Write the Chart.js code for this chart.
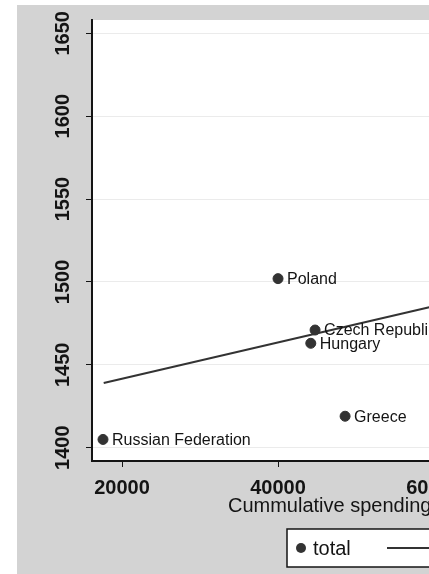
<!DOCTYPE html>
<html>
<head>
<meta charset="utf-8">
<script src="https://cdn.jsdelivr.net/npm/chart.js@4/dist/chart.umd.min.js"></script>
<style>
html, body { margin: 0; padding: 0; overflow: hidden; background: #fff; width: 429px; height: 574px; }
#wrap { width: 700px; height: 574px; }
</style>
</head>
<body>
<div id="wrap"><canvas id="myChart" width="700" height="574"></canvas></div>
<script>
var countries = ['Poland', 'Czech Republic', 'Hungary', 'Greece', 'Russian Federation'];
var spending = [40000, 44750, 44200, 48600, 17560];
var score = [1502, 1471, 1463, 1419, 1405];
var fit_x = [17650, 66000];
var fit_y = [1439, 1492];
var ticks_x = [20000, 40000, 60000, 80000];
var ticks_y = [1400, 1450, 1500, 1550, 1600, 1650];

var pts = [];
for (let i = 0; i < countries.length; i++) {
  pts.push({x: spending[i], y: score[i]});
}
var fitPts = [];
for (let i = 0; i < fit_x.length; i++) {
  fitPts.push({x: fit_x[i], y: fit_y[i]});
}

var ink = '#141414';
var fontFam = '"Liberation Sans", Arial, sans-serif';
var ctx = document.getElementById('myChart').getContext('2d');

// scanned page look: grey paper, white plot region
var paperBg = {
  id: 'paperBg',
  beforeDraw: function(chart) {
    var c = chart.ctx, a = chart.chartArea;
    c.save();
    c.fillStyle = '#fff';
    c.fillRect(0, 0, chart.width, chart.height);
    c.fillStyle = '#d3d3d3';
    c.fillRect(17, 5, chart.width, chart.height);
    c.fillStyle = '#fff';
    c.fillRect(a.left, a.top, a.right - a.left, a.bottom - a.top);
    c.restore();
  }
};

// country names next to the markers
var pointLabels = {
  id: 'pointLabels',
  afterDatasetsDraw: function(chart) {
    var c = chart.ctx;
    var meta = chart.getDatasetMeta(0);
    c.save();
    c.font = '16px ' + fontFam;
    c.fillStyle = ink;
    c.textBaseline = 'middle';
    c.textAlign = 'left';
    meta.data.forEach(function(el, i) {
      c.fillText(countries[i], el.x + 9, el.y + 1);
    });
    c.restore();
  }
};

// boxed legend like the Stata one
var boxLegend = {
  id: 'boxLegend',
  afterDraw: function(chart) {
    var c = chart.ctx;
    var x0 = 287, y0 = 529, h = 38;
    c.save();
    c.fillStyle = '#fff';
    c.fillRect(x0, y0, 330, h);
    c.strokeStyle = ink;
    c.lineWidth = 1.5;
    c.strokeRect(x0, y0, 330, h);
    c.fillStyle = '#333';
    c.beginPath();
    c.arc(301, y0 + 19, 5, 0, Math.PI * 2);
    c.fill();
    c.font = '20px ' + fontFam;
    c.fillStyle = ink;
    c.textBaseline = 'middle';
    c.fillText(chart.data.datasets[0].label, 313, y0 + 20);
    c.strokeStyle = '#333';
    c.lineWidth = 2;
    c.beginPath();
    c.moveTo(387, y0 + 19);
    c.lineTo(450, y0 + 19);
    c.stroke();
    c.fillText(chart.data.datasets[1].label, 462, y0 + 20);
    c.restore();
  }
};

var myChart = new Chart(ctx, {
  type: 'scatter',
  data: {
    datasets: [{
      label: 'total',
      data: pts,
      backgroundColor: '#333',
      borderColor: '#333',
      pointRadius: 5,
      pointHoverRadius: 5
    }, {
      type: 'line',
      label: 'Fitted values',
      data: fitPts,
      borderColor: '#333',
      borderWidth: 2,
      pointRadius: 0,
      fill: false
    }]
  },
  options: {
    responsive: false,
    animation: false,
    layout: {
      padding: {top: 20, right: 27, bottom: 58, left: 0}
    },
    plugins: {
      legend: {display: false},
      tooltip: {enabled: false}
    },
    scales: {
      x: {
        type: 'linear',
        min: 16150,
        max: 90640,
        afterFit: function(scale) { scale.height = 55; },
        afterBuildTicks: function(scale) {
          scale.ticks = ticks_x.map(function(v) { return {value: v}; });
        },
        ticks: {
          color: ink,
          padding: 9,
          font: {family: fontFam, size: 20, weight: 'bold'},
          callback: function(v) { return String(v); }
        },
        grid: {drawOnChartArea: false, tickColor: ink, tickLength: 6},
        border: {color: ink, width: 2},
        title: {
          display: true,
          text: 'Cummulative spending per student',
          color: ink,
          padding: 0,
          font: {family: fontFam, size: 20, lineHeight: 1}
        }
      },
      y: {
        min: 1392,
        max: 1658,
        afterFit: function(scale) { scale.width = 92; },
        afterBuildTicks: function(scale) {
          scale.ticks = ticks_y.map(function(v) { return {value: v}; });
        },
        ticks: {
          minRotation: 90,
          maxRotation: 90,
          crossAlign: 'center',
          padding: 0,
          color: ink,
          font: {family: fontFam, size: 20, weight: 'bold'},
          callback: function(v) { return String(v); }
        },
        grid: {color: '#ebebeb', tickColor: ink, tickLength: 6},
        border: {color: ink, width: 2}
      }
    }
  },
  plugins: [paperBg, pointLabels, boxLegend]
});
</script>
</body>
</html>
